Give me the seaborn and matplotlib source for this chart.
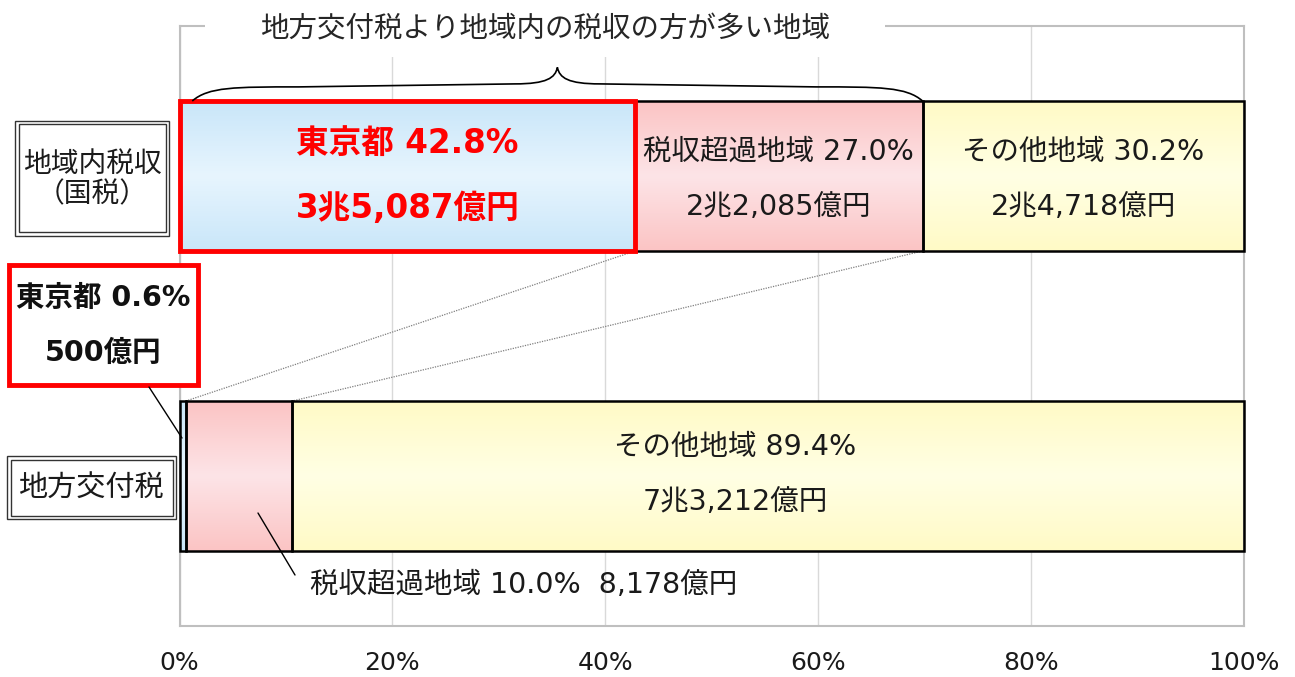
import numpy as np
import pandas as pd
import matplotlib.pyplot as plt
import seaborn as sns
from matplotlib.patches import Rectangle, PathPatch
from matplotlib.path import Path
from matplotlib.lines import Line2D
from matplotlib.colors import LinearSegmentedColormap

# データ
rows = ["地域内税収（国税）", "地方交付税"]
segments = ["東京都", "税収超過地域", "その他地域"]
share_tax = [42.8, 27.0, 30.2]
share_grant = [0.6, 10.0, 89.4]
amount_tax = ["3兆5,087億円", "2兆2,085億円", "2兆4,718億円"]
amount_grant = ["500億円", "8,178億円", "7兆3,212億円"]
tick_pos = [0, 20, 40, 60, 80, 100]
tick_labels = ["0%", "20%", "40%", "60%", "80%", "100%"]
title = "地方交付税より地域内の税収の方が多い地域"

# 色 (上下端, 中央)
seg_colors = {
    "東京都": ("#c9e6f9", "#e7f5fe"),
    "税収超過地域": ("#fbc4c4", "#fde4e7"),
    "その他地域": ("#fffac6", "#ffffe4"),
}

df = pd.DataFrame({
    "row": np.repeat(rows, 3),
    "segment": segments * 2,
    "share": share_tax + share_grant,
})
df["left"] = df.groupby("row", sort=False)["share"].cumsum() - df["share"]

sns.set_theme(style="white")
# 数字はDejaVu(Verdana系)、日本語はNoto CJKで表示
plt.rcParams["font.family"] = ["DejaVu Sans", "Noto Sans CJK JP"]

W, H = 1295, 677
fig = plt.figure(figsize=(W / 100, H / 100), dpi=100)
ax = fig.add_axes([179.5 / W, 1 - 626 / H, (1244 - 179.5) / W, 600 / H])


def fp(px, py):
    # ピクセル座標(左上原点) -> figure座標
    return px / W, 1 - py / H


# 積み上げ横棒
bars = {}
for seg in segments:
    sub = df[df["segment"] == seg]
    n0 = len(ax.patches)
    sns.barplot(data=sub, x="share", y="row", order=rows, orient="h",
                left=sub["left"].to_numpy(), width=0.5, color=seg_colors[seg][0],
                edgecolor="black", linewidth=1.8, errorbar=None, ax=ax)
    bars[seg] = ax.patches[n0:]

# グラデーション
grad = np.abs(np.linspace(-1, 1, 256)).reshape(-1, 1)
for seg in segments:
    cmap = LinearSegmentedColormap.from_list(seg, [seg_colors[seg][1], seg_colors[seg][0]])
    for p in bars[seg]:
        x, y, w, h = p.get_x(), p.get_y(), p.get_width(), p.get_height()
        im = ax.imshow(grad, cmap=cmap, aspect="auto", extent=(x, x + w, y + h, y),
                       zorder=1, interpolation="bicubic")
        im.set_clip_path(p)
        p.set_facecolor("none")
        p.set_zorder(2.6)
        p.set_clip_on(False)

tokyo_top = bars["東京都"][0]
tokyo_top.set_edgecolor("#ff0000")
tokyo_top.set_linewidth(3.5)
tokyo_top.set_zorder(3)

ax.set_xlim(0, 100)
ax.set_ylim(1.5, -0.5)
ax.set_xticks(tick_pos)
ax.set_xticklabels(tick_labels, fontsize=18, color="#1a1a1a")
ax.tick_params(axis="x", length=0, pad=18)
ax.set_yticks([])
ax.set_xlabel("")
ax.set_ylabel("")
ax.xaxis.grid(True, color="#d9d9d9", lw=1)
ax.set_axisbelow(True)
for s in ax.spines.values():
    s.set_color("#bfbfbf")
    s.set_linewidth(1.5)

# タイトル部分の白抜き
fig.add_artist(Rectangle(fp(205, 57), 680 / W, 57 / H, transform=fig.transFigure,
                         facecolor="white", edgecolor="none", zorder=3))
fig.text(*fp(545, 30), title, fontsize=20.5, ha="center", va="center", zorder=5)

# 中括弧
x0, x1 = 1.2, share_tax[0] + share_tax[1]
xm = (x0 + x1) / 2
yb, yf, yp = -0.25, -0.297, -0.362
verts = [(x0, yb),
         (x0 + 1.5, yf), (x0 + 4, yf), (x0 + 10, yf),
         (xm - 4, yf - 0.01),
         (xm - 1, yf - 0.01), (xm - 0.2, yf - 0.03), (xm, yp),
         (xm + 0.2, yf - 0.03), (xm + 1, yf - 0.01), (xm + 4, yf - 0.01),
         (x1 - 10, yf),
         (x1 - 4, yf), (x1 - 1.5, yf), (x1, yb)]
codes = [Path.MOVETO] + [Path.CURVE4] * 3 + [Path.LINETO] + [Path.CURVE4] * 6 + \
        [Path.LINETO] + [Path.CURVE4] * 3
ax.add_patch(PathPatch(Path(verts, codes), facecolor="none", edgecolor="black",
                       lw=1.2, clip_on=False, zorder=4))

# 点線の対応線
ax.plot([share_tax[0], share_grant[0]], [0.25, 0.75], ls=(0, (1, 1)),
        color="#7f7f7f", lw=0.9, zorder=1.5)
ax.plot([share_tax[0] + share_tax[1], share_grant[0] + share_grant[1]], [0.25, 0.75],
        ls=(0, (1, 1)), color="#7f7f7f", lw=0.9, zorder=1.5)

# 棒内ラベル（地域内税収）
for i, seg in enumerate(segments):
    cx = sum(share_tax[:i]) + share_tax[i] / 2
    if i == 0:
        ax.text(cx, -0.108, f"{seg} {share_tax[i]:.1f}%", ha="center", va="center",
                fontsize=23.5, fontweight="bold", color="#ff0000", zorder=5)
        ax.text(cx, 0.108, amount_tax[i], ha="center", va="center",
                fontsize=23.5, fontweight="bold", color="#ff0000", zorder=5)
    else:
        ax.text(cx, -0.08, f"{seg} {share_tax[i]:.1f}%", ha="center", va="center",
                fontsize=20.5, color="#1a1a1a", zorder=5)
        ax.text(cx, 0.105, amount_tax[i], ha="center", va="center",
                fontsize=20.5, color="#1a1a1a", zorder=5)

# 棒内ラベル（地方交付税 その他地域）
cx = sum(share_grant[:2]) + share_grant[2] / 2 - 3.1
ax.text(cx, 0.905, f"{segments[2]} {share_grant[2]:.1f}%", ha="center", va="center",
        fontsize=20.5, color="#1a1a1a", zorder=5)
ax.text(cx, 1.088, amount_grant[2], ha="center", va="center",
        fontsize=20.5, color="#1a1a1a", zorder=5)

# 税収超過地域（地方交付税）の引き出しラベル
fig.add_artist(Line2D([258 / W, 295 / W], [1 - 513 / H, 1 - 575 / H],
                      transform=fig.transFigure, color="black", lw=1, zorder=6))
fig.text(*fp(310, 585), f"{segments[1]} {share_grant[1]:.1f}%  {amount_grant[1]}",
         fontsize=20.5, ha="left", va="center", color="#1a1a1a", zorder=6)


# 左側の二重枠ラベル
def double_box(px0, py0, px1, py1):
    for d in (0, 3.5):
        fig.add_artist(Rectangle(fp(px0 + d, py1 - d), (px1 - px0 - 2 * d) / W,
                                 (py1 - py0 - 2 * d) / H, transform=fig.transFigure,
                                 facecolor="white" if d == 0 else "none",
                                 edgecolor="#333333", lw=1, zorder=6))


double_box(15, 121, 169, 236)
fig.text(*fp(92, 179), "地域内税収\n（国税）", fontsize=20, ha="center", va="center",
         linespacing=1.1, color="#1a1a1a", zorder=7)
double_box(7, 456, 176, 519)
fig.text(*fp(91, 488), rows[1], fontsize=21, ha="center", va="center",
         color="#1a1a1a", zorder=7)

# 東京都（地方交付税）の吹き出し
fig.add_artist(Rectangle(fp(9, 385), 189 / W, 120 / H, transform=fig.transFigure,
                         facecolor="white", edgecolor="#ff0000", lw=3.5, zorder=6))
fig.text(*fp(103, 298), f"{segments[0]} {share_grant[0]:.1f}%", fontsize=20.5,
         fontweight="bold", ha="center", va="center", color="#111111", zorder=7)
fig.text(*fp(103, 353), amount_grant[0], fontsize=20.5, fontweight="bold",
         ha="center", va="center", color="#111111", zorder=7)
fig.add_artist(Line2D([149 / W, 182 / W], [1 - 387 / H, 1 - 438 / H],
                      transform=fig.transFigure, color="black", lw=1, zorder=6))

fig.savefig("out.png", dpi=100)
